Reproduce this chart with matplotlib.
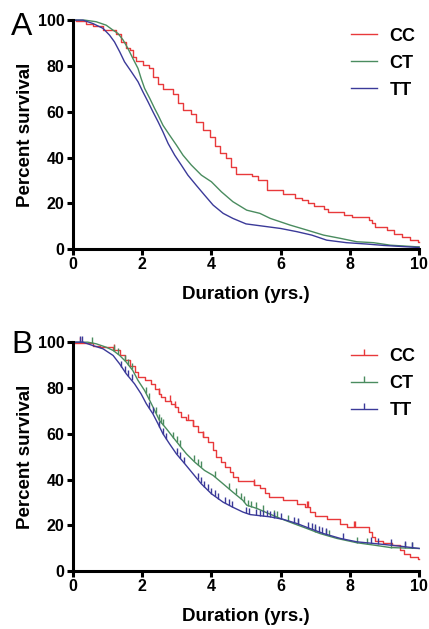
import numpy as np
import matplotlib
matplotlib.use("Agg")
import matplotlib.pyplot as plt

plt.rcParams['font.family'] = ['Liberation Sans', 'DejaVu Sans']

# === Panel A: survival curves ===
a_cc_t = [0, 0.1, 0.37, 0.58, 0.87, 1.25, 1.4, 1.54, 1.64, 1.73, 1.83, 2.02, 2.2, 2.3, 2.45,
          2.6, 2.9, 3.03, 3.18, 3.42, 3.56, 3.75, 3.95, 4.1, 4.24, 4.43, 4.58, 4.72,
          5.17, 5.36, 5.6, 6.08, 6.42, 6.61, 6.8, 6.95, 7.24, 7.38, 7.82, 8.06, 8.54,
          8.63, 8.73, 9.07, 9.26, 9.5, 9.74, 9.98, 10]
a_cc_s = [100, 99.5, 98.5, 97.5, 95.6, 94, 90.5, 88, 87, 84, 82, 80.6, 79, 75, 72,
          70, 67.8, 64, 60.7, 59, 55.4, 52, 49, 45, 42, 39.6, 36, 33,
          31.9, 30, 26, 23.9, 22.4, 21.4, 20, 18.8, 17.3, 16.3, 14.8, 13.8, 12.7,
          11.2, 9.8, 8.3, 6.8, 5.4, 3.9, 3.2, 3.2]
a_ct_t = [0, 0.34, 0.67, 0.96, 1.16, 1.3, 1.45, 1.59, 1.73, 1.88, 1.97, 2.07, 2.22, 2.36,
          2.46, 2.6, 2.79, 2.99, 3.18, 3.42, 3.71, 4.0, 4.29, 4.62, 5.02, 5.4, 5.7, 6.27,
          6.76, 7.24, 7.72, 8.2, 8.68, 9.17, 9.93, 10]
a_ct_s = [100, 100, 99.3, 97.8, 95.6, 94.2, 91.3, 87.6, 83.3, 78.9, 74.5, 70.2, 65.8, 61.4,
          58.5, 54.1, 49.8, 45.4, 41.0, 36.7, 32.3, 29.4, 25.0, 20.7, 17.0, 15.6, 13.4, 10.5,
          8.3, 6.1, 4.7, 3.2, 2.8, 1.7, 1.0, 1.0]
a_tt_t = [0, 0.29, 0.58, 0.87, 1.06, 1.2, 1.35, 1.49, 1.69, 1.88, 2.02, 2.17, 2.31, 2.46,
          2.6, 2.75, 2.94, 3.13, 3.32, 3.56, 3.8, 4.05, 4.34, 4.62, 5.0, 5.6, 6.0, 6.47,
          6.9, 7.33, 7.9, 8.49, 8.97, 9.65, 10]
a_tt_s = [100, 100, 98.5, 96.4, 93.4, 90.5, 86.2, 81.8, 77.4, 73.1, 68.7, 64.3, 60.0, 55.6,
          51.2, 46.1, 41.0, 36.7, 32.3, 27.9, 23.6, 19.2, 15.6, 13.4, 11.0, 9.8, 9.0, 7.6,
          6.1, 3.9, 2.8, 2.2, 1.6, 1.0, 0.7]

# === Panel B: survival curves with censored cases ===
b_cc_t = [0, 0.58, 0.77, 1.16, 1.35, 1.49, 1.64, 1.78, 1.88, 2.07, 2.26, 2.36, 2.5, 2.55,
          2.65, 2.84, 2.94, 3.03, 3.13, 3.28, 3.47, 3.61, 3.76, 3.9, 4.05, 4.14, 4.29, 4.38,
          4.53, 4.62, 4.77, 5.22, 5.41, 5.55, 5.65, 6.08, 6.47, 6.71, 6.85, 7.0, 7.33, 7.72,
          7.91, 8.54, 8.63, 8.73, 8.97, 9.21, 9.45, 9.55, 9.74, 9.98, 10]
b_cc_s = [99.6, 98.5, 97.8, 96.4, 94.2, 92, 89.8, 86.9, 84.7, 83.3, 81.8, 79.6, 77.4, 76,
          74.5, 73.1, 71.6, 69.4, 67.2, 65.8, 63.6, 60.7, 58.5, 56.3, 52.7, 49.8, 47.6, 45.4,
          43.2, 41.0, 39.3, 37.6, 36.1, 34.2, 32.2, 31, 29.5, 27.8, 25.9, 24, 22.6, 20.8,
          19.1, 17.2, 15, 13.2, 12.4, 11.4, 9.2, 7.7, 6.3, 5.1, 5.1]
b_ct_t = [0, 0.43, 0.67, 0.96, 1.16, 1.35, 1.54, 1.73, 1.88, 2.07, 2.22, 2.36, 2.5, 2.7,
          2.89, 3.08, 3.28, 3.52, 3.8, 4.05, 4.34, 4.62, 4.91, 5.02, 5.31, 5.6, 5.99, 6.37,
          6.76, 7.14, 7.62, 8.2, 8.68, 9.17, 10]
b_ct_s = [100, 100, 99.3, 97.8, 96.4, 94.2, 91.3, 87.6, 83.3, 78.9, 74.5, 70.2, 65.8, 62.2,
          58.5, 54.9, 51.2, 47.6, 44, 41.8, 38.1, 34.5, 30.9, 28.8, 27.4, 25.5, 23, 20.8,
          18.6, 16.4, 14.3, 12.4, 11.4, 10.3, 9.9]
b_tt_t = [0, 0.29, 0.58, 0.87, 1.16, 1.35, 1.54, 1.78, 1.97, 2.12, 2.31, 2.46, 2.6, 2.79,
          2.99, 3.23, 3.47, 3.71, 4.0, 4.34, 4.62, 4.91, 5.12, 5.7, 6.08, 6.47, 6.85, 7.24,
          7.72, 8.2, 8.88, 9.45, 10]
b_tt_s = [100, 100, 98.5, 97.1, 94.2, 90.5, 86.2, 81.8, 77.4, 73.1, 68.7, 64.3, 60, 55.6,
          51.2, 46.9, 42.5, 38.1, 33.8, 30.1, 27.9, 25.8, 24.7, 23.7, 22.6, 20.8, 18.6, 16.4,
          14.3, 12.8, 11.8, 10.9, 9.9]

# censoring times
b_cc_cens = [0.2, 1.2, 2.5, 2.79, 2.94, 3.33, 3.47, 3.76, 5.22, 6.76, 6.8, 8.11, 8.15]
b_ct_cens = [0.55, 1.2, 1.3, 1.5, 1.6, 1.7, 2.1, 2.2, 2.4, 2.5, 2.55, 2.6, 2.9, 3.0, 3.1,
             3.5, 3.6, 3.7, 4.1, 4.5, 4.7, 4.85, 4.95, 5.05, 5.15, 5.3, 5.5, 5.8, 5.9, 6.2,
             6.5, 7.0, 7.3, 7.4, 8.2, 8.5, 9.2, 9.6, 9.8]
b_tt_cens = [0.2, 0.25, 1.4, 1.5, 1.6, 1.7, 2.2, 2.3, 2.5, 2.6, 2.7, 3.0, 3.1, 3.2, 3.6,
             3.7, 3.8, 3.9, 4.0, 4.1, 4.2, 4.4, 4.5, 4.6, 5.0, 5.1, 5.3, 5.4, 5.5, 5.6, 5.7,
             5.8, 6.0, 6.4, 6.5, 6.8, 6.9, 7.0, 7.1, 7.2, 7.3, 7.8, 8.6, 8.8, 9.2, 9.6, 9.8]

labels = ['CC', 'CT', 'TT']
colors = ['#e8393b', '#4a8c5f', '#3b3a99']
LW = 1.0


def step_value(t, s, x):
    i = np.searchsorted(t, x, side='right') - 1
    return np.asarray(s)[i]


def draw_curve(ax, t, s, color, stepped):
    if stepped:
        ax.step(t, s, where='post', color=color, lw=LW, clip_on=False)
    else:
        ax.plot(t, s, color=color, lw=LW, clip_on=False)


def style_axes(ax):
    ax.set_xlim(0, 10)
    ax.set_ylim(0, 100)
    ax.set_xticks(range(0, 11, 2))
    ax.set_yticks(range(0, 101, 20))
    for side in ['top', 'right']:
        ax.spines[side].set_visible(False)
    for side in ['left', 'bottom']:
        ax.spines[side].set_linewidth(2.2)
    ax.tick_params(width=2.2, length=4.5, labelsize=11.5, pad=1.5)
    for lab in ax.get_xticklabels() + ax.get_yticklabels():
        lab.set_fontweight('bold')
    ax.set_xlabel('Duration (yrs.)', fontsize=13.5, fontweight='bold', labelpad=9.5)
    ax.set_ylabel('Percent survival', fontsize=13.5, fontweight='bold', labelpad=3)


fig = plt.figure(figsize=(4.29, 6.29), dpi=100)
ax_a = fig.add_axes([0.170, 0.604, 0.807, 0.364])
ax_b = fig.add_axes([0.170, 0.092, 0.807, 0.364])

series_a = [(a_cc_t, a_cc_s, True), (a_ct_t, a_ct_s, False), (a_tt_t, a_tt_s, False)]
for (t, s, stepped), c, lab in zip(series_a, colors, labels):
    draw_curve(ax_a, t, s, c, stepped)
    ax_a.plot([], [], color=c, lw=LW, label=lab)

series_b = [(b_cc_t, b_cc_s, b_cc_cens, True), (b_ct_t, b_ct_s, b_ct_cens, False),
            (b_tt_t, b_tt_s, b_tt_cens, False)]
for (t, s, cens, stepped), c, lab in zip(series_b, colors, labels):
    draw_curve(ax_b, t, s, c, stepped)
    cy = step_value(t, s, cens) if stepped else np.interp(cens, t, s)
    ax_b.plot(cens, cy, ls='none', marker=2, ms=4, mew=LW, color=c, clip_on=False)
    ax_b.plot([], [], color=c, lw=LW, marker=2, ms=4, mew=LW, label=lab)

for ax, top in [(ax_a, 0.956), (ax_b, 0.446)]:
    style_axes(ax)
    ax.legend(loc='upper left', bbox_to_anchor=(0.819, top), bbox_transform=fig.transFigure,
              frameon=False, borderpad=0, borderaxespad=0, handlelength=1.4,
              handletextpad=0.7, labelspacing=0.55,
              prop={'weight': 'bold', 'size': 13})

fig.text(0.026, 0.944, 'A', fontsize=23, ha='left', va='baseline')
fig.text(0.026, 0.439, 'B', fontsize=23, ha='left', va='baseline')

fig.savefig('out.png', dpi=100)
